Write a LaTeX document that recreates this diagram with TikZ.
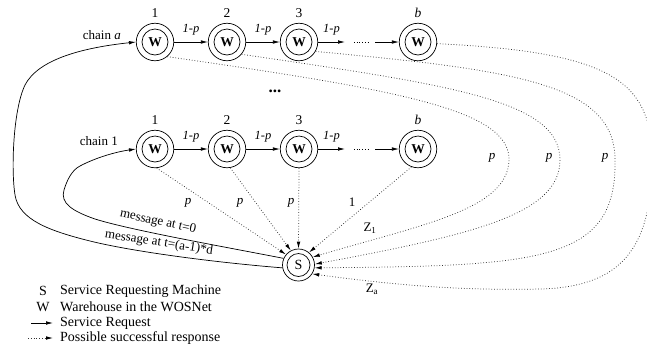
\documentclass[tikz,border=0pt]{standalone}
\usepackage{fontspec}
\setmainfont{Liberation Serif}
\usetikzlibrary{arrows.meta}
\begin{document}
\begin{tikzpicture}[x=1pt,y=-1pt,
  wnode/.style={circle,draw,line width=0.7pt,minimum size=37.5pt,inner sep=0pt,
    font=\fontsize{13.5}{15}\selectfont\bfseries,
    path picture={\draw[line width=0.7pt] (path picture bounding box.center) circle[radius=13pt];}},
  snode/.style={circle,draw,line width=0.7pt,minimum size=32pt,inner sep=0pt,
    font=\fontsize{14}{16}\selectfont,
    path picture={\draw[line width=0.7pt] (path picture bounding box.center) circle[radius=11.5pt];}},
  numlab/.style={font=\fontsize{13.5}{15}\selectfont,inner sep=5pt},
  elab/.style={font=\fontsize{12.5}{14}\selectfont\itshape,above=5pt,inner sep=1pt},
  plab/.style={font=\fontsize{13}{15}\selectfont},
  ilab/.style={font=\fontsize{13}{15}\selectfont\itshape},
  msg/.style={font=\fontsize{13}{15}\selectfont,inner sep=0pt},
  legtxt/.style={font=\fontsize{14}{16}\selectfont,anchor=west,inner sep=0pt},
  req/.style={line width=0.7pt,-{Latex[length=7pt,width=3.6pt]}},
  resp/.style={line width=0.75pt,dotted,draw=black!80,-{Latex[length=7pt,width=3.6pt,color=black]}}
]
\useasboundingbox (0,0) rectangle (647,349);

% chain a
\node[wnode,label={[numlab]above:1}] (a1) at (155,42) {W};
\node[wnode,label={[numlab]above:2}] (a2) at (227,42) {W};
\node[wnode,label={[numlab]above:3}] (a3) at (299,42) {W};
\node[wnode,label={[numlab]above:\textit{b}}] (ab) at (418,42) {W};
% chain 1
\node[wnode,label={[numlab]above:1}] (c1) at (155,149) {W};
\node[wnode,label={[numlab]above:2}] (c2) at (227,149) {W};
\node[wnode,label={[numlab]above:3}] (c3) at (299,149) {W};
\node[wnode,label={[numlab]above:\textit{b}}] (cb) at (418,149) {W};
% service machine
\node[snode] (S) at (298.5,265) {S};

\node[plab,anchor=east,inner sep=0pt] (cha) at (121,35) {chain \textit{a}};
\node[plab,anchor=east,inner sep=0pt] (ch1) at (118,141) {chain 1};
\node[inner sep=0pt] (vdots) at (275,91) {\fontsize{17}{17}\selectfont\textbf{...}};

% chain a arrows
\coordinate (a3e) at (345,42);
\coordinate (ad1) at (354,42);
\coordinate (ad2) at (368,42);
\coordinate (ad3) at (375,42);
\draw[req] (a1) -- node[elab]{1-p} (a2);
\draw[req] (a2) -- node[elab]{1-p} (a3);
\draw[req] (a3) -- node[elab]{1-p} (a3e);
\draw[line width=0.7pt,dotted] (ad1) -- (ad2);
\draw[req] (ad3) -- (ab);
% chain 1 arrows
\coordinate (c3e) at (345,149);
\coordinate (cd1) at (354,149);
\coordinate (cd2) at (368,149);
\coordinate (cd3) at (375,149);
\draw[req] (c1) -- node[elab]{1-p} (c2);
\draw[req] (c2) -- node[elab]{1-p} (c3);
\draw[req] (c3) -- node[elab]{1-p} (c3e);
\draw[line width=0.7pt,dotted] (cd1) -- (cd2);
\draw[req] (cd3) -- (cb);

% request messages from S
\draw[req] (S.156) .. controls (220,246) and (130,230) .. (95,219)
  .. controls (72,211) and (60,203) .. (64,190)
  .. controls (67,180) and (72,170) .. (80,166)
  .. controls (95,158) and (115,152) .. (c1.west);
\draw[req] (S.190) .. controls (210,262) and (130,251) .. (90,241)
  .. controls (50,231) and (19,220) .. (15,195)
  .. controls (11,170) and (13,110) .. (25,85)
  .. controls (38,60) and (80,48) .. (a1.west);
\node[msg,rotate=-12] (m0) at (158,222) {message at t=0};
\node[msg,rotate=-9] (m1) at (159,243) {message at t=(a-1)*d};

% responses from chain 1
\draw[resp] (c1.-85) -- (S.140);
\draw[resp] (c2.-80) -- (S.118);
\draw[resp] (c3.south) -- (S.north);
\draw[resp] (cb.-110) -- (S.50);
\node[ilab] (p1) at (188,203) {p};
\node[ilab] (p2) at (240,203) {p};
\node[ilab] (p3) at (291,203) {p};
\node[plab] (one) at (352,202) {1};

% responses from chain a
\draw[resp] (a1.-50) .. controls (400,90) and (510,110) .. (509,160)
  .. controls (508,210) and (420,225) .. (S.29);
\draw[resp] (a2.-40) .. controls (450,85) and (560,100) .. (560,160)
  .. controls (560,215) and (470,235) .. (S.3);
\draw[resp] (a3.-30) .. controls (520,70) and (615,85) .. (615,160)
  .. controls (617,262) and (540,266) .. (S.-10);
\draw[resp] (ab.-5) .. controls (610,52) and (652,80) .. (652,160)
  .. controls (652,250) and (620,287) .. (540,289)
  .. controls (450,291) and (380,283) .. (S.-33);
\node[ilab] (q1) at (492,158) {p};
\node[ilab] (q2) at (549,158) {p};
\node[ilab] (q3) at (605,158) {p};
\node[ilab] (q4) at (652,158) {p};
\node[plab] (z1) at (370,228) {Z\textsubscript{1}};
\node[plab] (za) at (372,289) {Z\textsubscript{a}};

% legend
\node[legtxt,anchor=center] (lS) at (43,291) {S};
\node[legtxt] (tS) at (60,291) {Service Requesting Machine};
\node[legtxt,anchor=center] (lW) at (43,307) {W};
\node[legtxt] (tW) at (60,307) {Warehouse in the WOSNet};
\coordinate (r0) at (31,323);
\coordinate (r1) at (53,323);
\draw[req] (r0) -- (r1);
\node[legtxt] (tR) at (60,323) {Service Request};
\coordinate (s0) at (28,338);
\coordinate (s1) at (53,338);
\draw[resp] (s0) -- (s1);
\node[legtxt] (tP) at (60,338) {Possible successful response};
\end{tikzpicture}
\end{document}
